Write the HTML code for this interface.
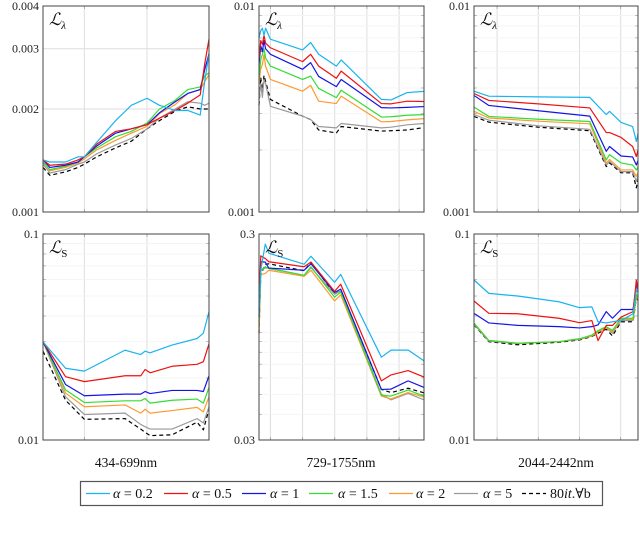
<!DOCTYPE html>
<html><head><meta charset="utf-8"><style>
html,body{margin:0;padding:0;background:#fff;}
svg{display:block;font-family:"Liberation Serif","DejaVu Serif",serif;}
</style></head><body>
<svg id="chart" width="640" height="539" viewBox="0 0 640 539" xmlns="http://www.w3.org/2000/svg"></svg>
<script>
const seriesNames = ["alpha-0.2","alpha-0.5","alpha-1","alpha-1.5","alpha-2","alpha-5","80it-all-b"];
const seriesColors = ["#19b4f0","#ee1111","#1414e6","#33dd33","#ff9a2e","#9a9a9a","#000000"];
const legendLabels = ["0.2","0.5","1","1.5","2","5"];

// Panel 1 top (L_lambda, 434-699nm), values x1e-3
const p1L_x = [434,445,470,490,500,520,550,575,600,620,645,665,685,692,699];
const p1L = [
 [1.42,1.40,1.40,1.45,1.45,1.60,1.85,2.05,2.15,2.05,1.98,1.98,1.92,2.4,2.9],
 [1.42,1.37,1.38,1.42,1.45,1.58,1.72,1.75,1.80,1.88,1.98,2.08,2.2,2.7,3.2],
 [1.42,1.35,1.37,1.40,1.45,1.56,1.70,1.75,1.80,1.95,2.10,2.22,2.28,2.6,2.9],
 [1.40,1.33,1.36,1.40,1.45,1.54,1.66,1.72,1.82,2.0,2.12,2.28,2.32,2.5,2.55],
 [1.40,1.32,1.35,1.39,1.43,1.52,1.62,1.70,1.78,1.94,2.06,2.22,2.28,2.4,2.52],
 [1.38,1.30,1.33,1.38,1.40,1.48,1.57,1.64,1.75,1.88,2.0,2.10,2.08,2.05,2.08],
 [1.35,1.28,1.31,1.35,1.38,1.45,1.54,1.61,1.75,1.85,1.97,2.03,2.0,2.0,2.0]
];
// Panel 2 top (729-1755nm), x1e-3
const p2L_x = [729,740,750,760,770,800,1000,1050,1100,1210,1240,1490,1550,1650,1755];
const p2L = [
 [7.0,7.6,7.8,7.2,7.8,6.9,6.12,6.65,5.83,5.11,5.47,3.52,3.5,3.8,3.85],
 [5.5,6.8,6.5,7.2,6.6,6.27,5.37,5.83,5.11,4.46,4.83,3.36,3.35,3.45,3.44],
 [5.2,6.4,6.0,6.8,6.2,5.83,4.93,5.31,4.55,4.06,4.4,3.21,3.2,3.22,3.25],
 [4.5,5.5,5.8,6.2,5.6,5.11,4.4,4.57,3.98,3.59,3.9,2.89,2.9,2.95,2.97],
 [4.2,5.0,5.2,5.8,5.1,4.4,3.86,4.12,3.45,3.36,3.65,2.74,2.75,2.8,2.84],
 [3.5,4.2,3.6,4.4,4.2,3.26,2.92,2.81,2.6,2.56,2.69,2.56,2.58,2.65,2.69],
 [3.3,4.5,3.8,4.6,4.3,3.52,2.92,2.81,2.5,2.42,2.6,2.47,2.48,2.5,2.57]
];
// Panel 3 top (2044-2442nm), x1e-3
const p3L_x = [2044,2080,2200,2325,2365,2373,2401,2429,2438,2442];
const p3L = [
 [3.86,3.65,3.62,3.6,2.97,3.08,2.72,2.6,2.2,2.4],
 [3.76,3.48,3.35,3.2,2.43,2.43,2.3,2.08,1.86,2.0],
 [3.68,3.29,3.1,2.92,1.97,2.08,1.87,1.85,1.69,1.78],
 [3.23,2.91,2.82,2.75,1.79,1.9,1.73,1.69,1.6,1.65],
 [3.08,2.86,2.76,2.68,1.73,1.8,1.6,1.6,1.49,1.55],
 [2.97,2.79,2.62,2.52,1.69,1.76,1.57,1.57,1.41,1.5],
 [2.91,2.73,2.58,2.48,1.66,1.73,1.55,1.55,1.31,1.45]
];
// Panel 1 bottom (L_S), x1e-2
const p1S_x = [434,470,500,565,590,597,605,640,680,690,699];
const p1S = [
 [3.0,2.23,2.16,2.73,2.6,2.7,2.65,2.89,3.11,3.3,4.2],
 [3.0,2.03,1.92,2.05,2.05,2.2,2.12,2.28,2.33,2.4,2.93],
 [3.0,1.86,1.64,1.67,1.67,1.72,1.68,1.74,1.74,1.72,2.05],
 [3.0,1.75,1.52,1.55,1.55,1.59,1.51,1.56,1.58,1.51,1.8],
 [3.0,1.69,1.45,1.48,1.35,1.41,1.35,1.39,1.44,1.37,1.62],
 [3.0,1.62,1.33,1.35,1.19,1.16,1.13,1.13,1.27,1.21,1.45],
 [2.7,1.56,1.26,1.27,1.13,1.09,1.05,1.06,1.22,1.12,1.41]
];
// Panel 2 bottom, absolute
const p2S_x = [729,740,768,790,1009,1052,1199,1237,1490,1550,1656,1755];
const p2S = [
 [0.119,0.20,0.268,0.242,0.214,0.234,0.175,0.191,0.0757,0.0819,0.082,0.0726],
 [0.128,0.235,0.228,0.22,0.208,0.219,0.158,0.171,0.0581,0.0621,0.0652,0.0606],
 [0.119,0.22,0.219,0.205,0.200,0.215,0.156,0.162,0.0528,0.053,0.0581,0.054],
 [0.112,0.20,0.208,0.204,0.189,0.208,0.148,0.157,0.0495,0.049,0.0524,0.049],
 [0.10,0.19,0.193,0.20,0.187,0.20,0.142,0.152,0.049,0.0475,0.051,0.0485],
 [0.105,0.20,0.205,0.205,0.189,0.206,0.153,0.159,0.05,0.047,0.0505,0.047],
 [0.0989,0.19,0.214,0.215,0.199,0.219,0.153,0.16,0.0528,0.051,0.0535,0.0508]
];
// Panel 3 bottom, x1e-2
const p3S_x = [2044,2080,2150,2250,2300,2330,2345,2365,2380,2401,2430,2438,2442];
const p3S = [
 [5.98,5.15,5.0,4.69,4.39,4.43,3.75,3.7,3.75,3.8,4.1,5.34,5.2],
 [4.73,4.12,4.1,3.9,3.71,3.8,3.04,3.6,3.6,3.95,4.2,5.98,5.3],
 [4.12,3.7,3.6,3.55,3.5,3.55,3.62,4.2,3.9,4.3,4.3,5.6,5.5],
 [3.69,3.04,2.95,3.0,3.1,3.23,3.4,3.55,3.4,3.9,3.9,5.1,4.9],
 [3.69,3.04,2.95,3.0,3.1,3.2,3.35,3.5,3.35,3.85,3.85,5.0,4.85],
 [3.65,3.02,2.94,3.0,3.08,3.2,3.35,3.5,3.3,3.8,3.8,4.95,4.8],
 [3.62,3.0,2.9,2.98,3.06,3.18,3.3,3.45,3.2,3.75,3.75,4.9,4.75]
];

const NS = "http://www.w3.org/2000/svg";
const svg = document.getElementById("chart");
function mk(tag, attrs, parent){
  const e = document.createElementNS(NS, tag);
  for (const k in attrs) e.setAttribute(k, attrs[k]);
  (parent||svg).appendChild(e);
  return e;
}

const panels = [
 {id:"p1-lambda", x0:43,x1:209,y0:6,y1:212, xmin:434,xmax:699, ymin:0.001,ymax:0.004, scale:1e-3, xs:p1L_x, data:p1L, vgrid:[500,600], hgrid:[0.002,0.003], minor:[], labels:[["0.004",0.004],["0.003",0.003],["0.002",0.002],["0.001",0.001]], sub:"λ"},
 {id:"p2-lambda", x0:259,x1:424,y0:6,y1:212, xmin:729,xmax:1755, ymin:0.001,ymax:0.01, scale:1e-3, xs:p2L_x, data:p2L, vgrid:[800,1000,1200,1400,1600], hgrid:[], minor:[0.002,0.003,0.004,0.005,0.006,0.007,0.008,0.009], labels:[["0.01",0.01],["0.001",0.001]], sub:"λ"},
 {id:"p3-lambda", x0:474,x1:638,y0:6,y1:212, xmin:2044,xmax:2442, ymin:0.001,ymax:0.01, scale:1e-3, xs:p3L_x, data:p3L, vgrid:[2100,2200,2300,2400], hgrid:[], minor:[0.002,0.003,0.004,0.005,0.006,0.007,0.008,0.009], labels:[["0.01",0.01],["0.001",0.001]], sub:"λ"},
 {id:"p1-s", x0:43,x1:209,y0:234,y1:440, xmin:434,xmax:699, ymin:0.01,ymax:0.1, scale:1e-2, xs:p1S_x, data:p1S, vgrid:[500,600], hgrid:[], minor:[0.02,0.03,0.04,0.05,0.06,0.07,0.08,0.09], labels:[["0.1",0.1],["0.01",0.01]], sub:"S"},
 {id:"p2-s", x0:259,x1:424,y0:234,y1:440, xmin:729,xmax:1755, ymin:0.03,ymax:0.3, scale:1, xs:p2S_x, data:p2S, vgrid:[800,1000,1200,1400,1600], hgrid:[], minor:[0.04,0.05,0.06,0.07,0.08,0.09,0.1,0.2], labels:[["0.3",0.3],["0.03",0.03]], sub:"S"},
 {id:"p3-s", x0:474,x1:638,y0:234,y1:440, xmin:2044,xmax:2442, ymin:0.01,ymax:0.1, scale:1e-2, xs:p3S_x, data:p3S, vgrid:[2100,2200,2300,2400], hgrid:[], minor:[0.02,0.03,0.04,0.05,0.06,0.07,0.08,0.09], labels:[["0.1",0.1],["0.01",0.01]], sub:"S"}
];

panels.forEach(p => {
  const g = mk("g", {});
  
  
  const xf = v => p.x0 + (v - p.xmin) / (p.xmax - p.xmin) * (p.x1 - p.x0);
  const yf = v => p.y1 - Math.log(v / p.ymin) / Math.log(p.ymax / p.ymin) * (p.y1 - p.y0);
  p.vgrid.forEach(v => {
    const l = mk("line", {x1:xf(v),x2:xf(v),y1:p.y0,y2:p.y1,stroke:"#dedede","stroke-width":1}, g);
    
    
    mk("line", {x1:xf(v),x2:xf(v),y1:p.y1,y2:p.y1-3,stroke:"#888","stroke-width":0.6}, g);
    mk("line", {x1:xf(v),x2:xf(v),y1:p.y0,y2:p.y0+3,stroke:"#888","stroke-width":0.6}, g);
  });
  p.hgrid.forEach(v => {
    const l = mk("line", {x1:p.x0,x2:p.x1,y1:yf(v),y2:yf(v),stroke:"#dedede","stroke-width":1}, g);
    
    
  });
  p.minor.forEach(v => {
    mk("line", {x1:p.x0,x2:p.x1,y1:yf(v),y2:yf(v),stroke:"#f2f2f2","stroke-width":0.8}, g);
    mk("line", {x1:p.x0,x2:p.x0+3,y1:yf(v),y2:yf(v),stroke:"#999","stroke-width":0.6}, g);
    mk("line", {x1:p.x1,x2:p.x1-3,y1:yf(v),y2:yf(v),stroke:"#999","stroke-width":0.6}, g);
  });
  p.labels.forEach(([t,v]) => {
    const tx = mk("text", {x:p.x0-4,y:yf(v)+4,"text-anchor":"end","font-size":"12",fill:"#222"}, g);
    tx.textContent = t;
    
    
  });
  const order = [6,5,4,3,2,1,0];
  order.forEach(si => {
    const vals = p.data[si];
    const pts = vals.map((v,i) => xf(p.xs[i]).toFixed(2) + "," + yf(v * p.scale).toFixed(2)).join(" ");
    const attrs = {points:pts, fill:"none", stroke:seriesColors[si], "stroke-width":1.2, "stroke-linejoin":"round"};
    if (si === 6) attrs["stroke-dasharray"] = "4,3";
    const pl = mk("polyline", attrs, g);
    
    
  });
  const fr = mk("rect", {x:p.x0,y:p.y0,width:p.x1-p.x0,height:p.y1-p.y0,fill:"none",stroke:"#444","stroke-width":1}, g);
  
  
  const tt = mk("text", {x:p.x0+6,y:p.y0+19,"font-size":"17",fill:"#111","font-style":"italic"}, g);
  tt.textContent = "ℒ";
  const ts = mk("tspan", {"font-size":"11",dy:"4","font-style":p.sub==="λ"?"italic":"normal"}, tt);
  ts.textContent = p.sub;
  
  
});

[["434-699nm",126],["729-1755nm",341],["2044-2442nm",556]].forEach(([t,x]) => {
  const tx = mk("text", {x:x,y:467,"text-anchor":"middle","font-size":"13.5",fill:"#111"});
  tx.textContent = t;
  
  
});

const lg = mk("g", {});


mk("rect", {x:80.5,y:481.5,width:522,height:24,fill:"#fff",stroke:"#555","stroke-width":1.2}, lg);
const lineX = [86,164,242,309,389,454,522];
const textX = [113,192,270,338,416,483,550];
for (let i = 0; i < 7; i++) {
  const e = mk("g", {}, lg);
  
  
  const la = {x1:lineX[i],x2:lineX[i]+24,y1:493.5,y2:493.5,stroke:seriesColors[i],"stroke-width":1.2};
  if (i === 6) la["stroke-dasharray"] = "4,3";
  mk("line", la, e);
  const tx = mk("text", {x:textX[i],y:498,"font-size":"14",fill:"#111"}, e);
  if (i < 6) {
    const a = mk("tspan", {"font-style":"italic"}, tx); a.textContent = "α";
    const b = mk("tspan", {}, tx); b.textContent = " = " + legendLabels[i];
  } else {
    const a = mk("tspan", {}, tx); a.textContent = "80";
    const b = mk("tspan", {"font-style":"italic"}, tx); b.textContent = "it";
    const c = mk("tspan", {}, tx); c.textContent = ".∀b";
  }
}
</script>
</body></html>
